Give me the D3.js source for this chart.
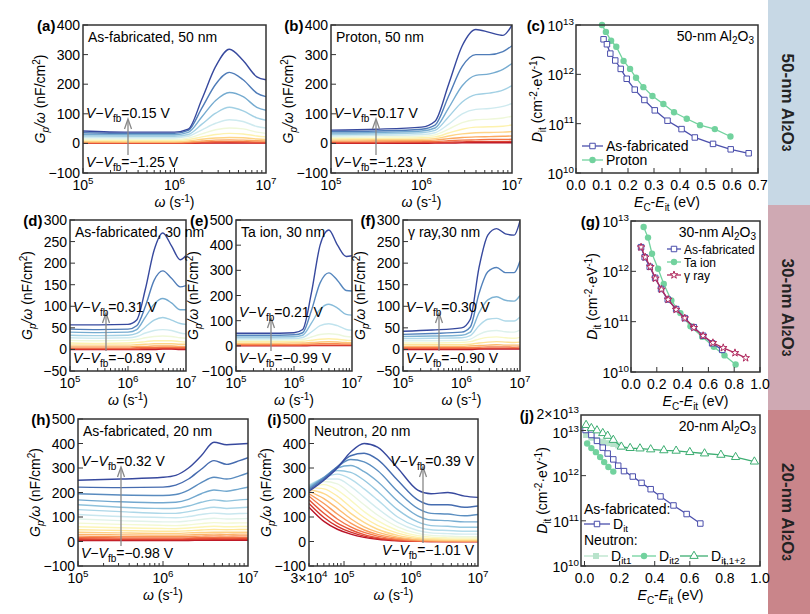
<!DOCTYPE html>
<html><head><meta charset="utf-8">
<script src="https://cdn.jsdelivr.net/npm/d3@7"></script>
<style>body{margin:0;background:#fff}svg{font-family:"Liberation Sans",Arial,sans-serif}</style>
</head><body><div id="canvas"></div>
<script>
// frequency grids (log10 of omega)
const gridA = [5, 5.5, 6, 6.15, 6.3, 6.45, 6.6, 6.75, 6.9, 7];
const gridI = [4.477, 4.7, 4.9, 5.1, 5.3, 5.5, 5.8, 6.1, 6.3, 6.55, 6.8, 7];

// Gp/w curves, top (most positive bias) first
const curvesA = [
  [42,38,38,48,150,260,318,280,225,215],[36,34,34,44,120,200,240,215,170,158],
  [30,29,29,37,90,145,172,158,122,112],[25,24,24,30,65,102,122,110,86,78],
  [20,19,19,24,46,68,80,74,57,52],[15,14,14,18,32,46,52,49,38,34],
  [11,10,10,13,22,30,34,32,25,22],[7,6,6,8,14,18,20,19,15,13],
  [4,4,4,5,8,11,12,11,9,8],[2,2,2,3,5,6,7,6,5,5],[1,1,1,1,2,3,3,3,2,2],[0,0,0,0,1,1,1,1,1,1]];
const curvesB = [
  [45,48,55,75,200,330,385,375,365,400],[40,42,48,62,160,260,300,300,310,330],
  [35,37,42,52,120,195,230,235,250,270],[30,32,36,44,90,140,165,170,180,195],
  [25,27,30,36,65,100,115,118,125,135],[20,22,24,29,48,70,80,82,86,92],
  [16,17,19,22,35,48,55,56,58,62],[12,13,14,16,25,32,36,37,38,40],
  [8,9,10,11,16,20,22,23,24,25],[5,5,6,6,9,11,12,13,13,14],[2,2,3,3,4,5,6,6,6,7],[0,0,0,1,1,2,2,2,2,2]];
const curvesD = [
  [57,57,58,68,140,230,270,240,208,218],[47,46,47,55,100,160,182,165,145,148],
  [40,39,40,46,75,105,118,108,92,92],[33,32,33,37,52,68,74,68,60,58],
  [27,26,27,30,38,44,46,44,38,36],[21,20,21,23,27,30,31,30,27,26],
  [15,14,15,16,18,20,20,20,18,17],[10,10,10,11,12,13,13,13,12,12],
  [6,6,6,7,7,8,8,8,7,7],[3,3,3,4,4,4,5,5,4,4],[1,1,1,1,2,2,2,2,2,2],[0,0,0,0,0,0,1,1,0,0]];
const curvesE = [
  [50,50,52,65,210,400,460,400,355,358],[42,42,44,52,140,250,290,260,220,218],
  [35,35,36,42,90,145,165,150,125,122],[28,28,29,33,55,80,88,80,65,62],
  [22,22,23,25,35,45,48,45,37,35],[16,16,17,18,22,26,28,26,22,21],
  [10,10,11,11,13,15,16,15,13,12],[5,5,5,6,7,8,8,8,7,7],[2,2,2,2,3,3,3,3,3,3],[0,0,0,0,1,1,1,1,1,1]];
const curvesF = [
  [42,45,50,70,190,265,280,268,265,298],[35,37,40,52,130,180,190,178,178,205],
  [30,31,33,40,85,115,122,114,112,125],[25,26,27,32,55,70,72,66,66,75],
  [20,20,21,24,35,42,44,41,40,45],[15,15,16,18,24,28,29,27,26,28],
  [11,11,11,12,15,17,18,17,16,17],[7,7,7,8,9,10,11,10,10,10],
  [4,4,4,4,5,6,6,6,5,6],[2,2,2,2,2,3,3,3,3,3],[0,0,0,0,1,1,1,1,1,1]];
const curvesH = [
  [250,255,262,270,300,350,405,395,398,400],[222,220,222,230,255,295,330,315,330,342],
  [195,190,188,192,210,240,262,255,268,280],[170,162,158,160,172,195,210,205,215,222],
  [150,140,135,136,145,160,170,165,170,172],[130,122,115,115,122,132,140,135,138,140],
  [110,102,98,97,102,110,116,112,114,115],[92,85,80,80,84,90,95,92,93,94],
  [75,70,66,65,68,73,77,75,76,76],[60,56,53,52,55,59,62,60,61,61],
  [48,45,42,42,44,47,49,48,49,49],[38,35,33,33,35,37,38,38,38,38],
  [29,27,26,26,27,29,30,29,30,30],[22,20,20,20,21,22,23,22,23,23],
  [16,15,15,15,15,16,17,16,17,17],[11,10,10,10,11,11,12,12,12,12],
  [7,7,7,7,7,8,8,8,8,8],[4,4,4,4,4,5,5,5,5,5]];
const curvesI = [
  [205,250,300,365,400,385,300,210,195,200,185,180],[210,255,305,350,360,335,250,170,150,150,140,145],
  [215,260,305,335,325,290,205,135,115,112,105,110],[220,262,300,310,285,245,165,105,88,85,80,80],
  [225,262,290,282,250,205,130,80,65,62,58,58],[228,260,275,255,215,170,100,60,48,45,42,42],
  [230,255,255,225,180,135,78,45,35,32,30,30],[230,245,235,195,150,108,60,33,25,22,20,20],
  [225,232,210,168,122,85,45,24,18,15,14,14],[220,215,185,140,98,66,34,17,12,10,9,9],
  [212,195,160,115,78,50,25,12,8,6,6,6],[205,175,135,93,60,38,18,8,5,4,3,3],
  [195,155,112,75,47,29,13,5,3,2,2,2],[185,135,92,60,37,22,9,3,2,1,1,1],
  [170,115,75,48,28,16,6,2,1,0,0,0],[155,98,62,38,22,12,4,1,0,0,0,0],
  [140,82,50,30,17,9,3,1,0,0,0,0]];

// Dit data: energy (eV) and log10(Dit)
const cAsE = [0.106,0.119,0.132,0.151,0.172,0.195,0.226,0.263,0.303,0.352,0.406,0.457,0.527,0.595,0.664];
const cAsD = [12.71,12.61,12.42,12.28,12.11,11.91,11.69,11.48,11.27,11.06,10.89,10.72,10.59,10.48,10.40];
const cPrE = [0.1,0.115,0.135,0.155,0.183,0.208,0.231,0.259,0.294,0.336,0.377,0.426,0.477,0.534,0.594];
const cPrD = [13.0,12.86,12.68,12.56,12.27,12.11,11.93,11.74,11.56,11.40,11.23,11.10,10.97,10.89,10.74];
const gAsE = [0.078,0.106,0.145,0.187,0.233,0.285,0.35,0.417,0.487,0.559,0.629,0.707];
const gAsD = [12.48,12.28,12.09,11.87,11.65,11.44,11.25,11.07,10.89,10.72,10.57,10.44];
const gTaE = [0.098,0.132,0.163,0.21,0.254,0.313,0.383,0.461,0.552,0.642,0.725,0.811];
const gTaD = [12.88,12.67,12.35,12.05,11.75,11.42,11.17,10.91,10.70,10.50,10.33,10.15];
const gGaE = [0.078,0.111,0.15,0.189,0.236,0.288,0.35,0.417,0.487,0.559,0.635,0.715,0.806,0.889];
const gGaD = [12.48,12.28,12.09,11.86,11.64,11.44,11.24,11.07,10.88,10.72,10.58,10.48,10.38,10.28];
const jAsE = [0.006,0.039,0.071,0.104,0.132,0.164,0.192,0.225,0.275,0.325,0.377,0.433,0.507,0.582,0.66];
const jAsD = [13.01,12.90,12.77,12.62,12.49,12.36,12.22,12.10,11.98,11.84,11.70,11.54,11.34,11.15,10.94];
const j1E = [0.009,0.039,0.071,0.104,0.132,0.164,0.192];
const j1D = [12.90,12.84,12.79,12.75,12.72,12.70,12.67];
const j2E = [0.015,0.039,0.065,0.089,0.112,0.136,0.164];
const j2D = [12.71,12.61,12.52,12.41,12.30,12.19,12.09];
const j12E = [0.009,0.039,0.071,0.104,0.132,0.164,0.21,0.26,0.316,0.377,0.452,0.522,0.6,0.684,0.777,0.861,0.968];
const j12D = [13.12,13.05,13.00,12.94,12.88,12.79,12.64,12.61,12.60,12.58,12.56,12.55,12.52,12.49,12.46,12.41,12.31];

const svg = d3.select("#canvas").append("svg").attr("width", 810).attr("height", 614);

// side bars
const bars = [["#c7d8e5","50-nm Al",0,205],["#cfa9b3","30-nm Al",205,410],["#c9858a","20-nm Al",410,614]];
bars.forEach(b => {
  svg.append("rect").attr("x",768).attr("y",b[2]).attr("width",42).attr("height",b[3]-b[2]).attr("fill",b[0]);
  const t = svg.append("text").attr("transform",`translate(782,${(b[2]+b[3])/2}) rotate(90)`)
    .attr("text-anchor","middle").attr("font-weight","bold").attr("font-size",17).attr("fill","#222");
  t.append("tspan").text(b[1]);
  t.append("tspan").attr("font-size",12).text("2");
  t.append("tspan").text("O");
  t.append("tspan").attr("font-size",12).text("3");
});

function pow10(sel, mant, exp, size) {
  sel.append("tspan").text(mant);
  sel.append("tspan").attr("font-size", size*0.7).attr("dy", -size*0.45).text(exp);
}
function frame(b){
  svg.append("rect").attr("x",b.x0).attr("y",b.y0).attr("width",b.x1-b.x0).attr("height",b.y1-b.y0)
    .attr("fill","none").attr("stroke","#333").attr("stroke-width",1.5);
}
// panel letter sits left of the top tick label
function letter(b, s, topLabel){
  const w = topLabel ? topLabel.node().getBBox().width : 0;
  svg.append("text").attr("x",b.x0-w-4).attr("y",b.y0+6).attr("text-anchor","end")
    .attr("font-weight","bold").attr("font-size",15).text(s);
}
function logXAxis(b, x, lo, hi, first3){
  const g = svg.append("g");
  for (let e = Math.floor(Math.log10(lo)); e < hi; e++) for (let m = 1; m < 10; m++) {
    const v = m * 10**e; if (v < lo - 1 || v > 10**hi) continue;
    g.append("line").attr("x1",x(v)).attr("x2",x(v)).attr("y1",b.y1).attr("y2",b.y1-(m===1?5:3)).attr("stroke","#333");
  }
  for (let e = Math.ceil(Math.log10(lo)); e <= hi; e++) {
    const t = g.append("text").attr("x",x(10**e)).attr("y",b.y1+17).attr("text-anchor","middle").attr("font-size",14);
    pow10(t,"10",e,14);
  }
  if (first3) { const t = g.append("text").attr("x",x(lo)).attr("y",b.y1+17).attr("text-anchor","middle").attr("font-size",14); pow10(t,"3×10","4",14); }
  const t = g.append("text").attr("x",(b.x0+b.x1)/2).attr("y",b.y1+34).attr("text-anchor","middle").attr("font-size",14);
  t.append("tspan").attr("font-style","italic").text("ω");
  t.append("tspan").text(" (s");
  t.append("tspan").attr("font-size",10).attr("dy",-5).text("-1");
  t.append("tspan").attr("dy",5).text(")");
}
function linYAxis(b, y, ticks){
  let top;
  ticks.forEach(v => {
    svg.append("line").attr("x1",b.x0).attr("x2",b.x0+5).attr("y1",y(v)).attr("y2",y(v)).attr("stroke","#333");
    top = svg.append("text").attr("x",b.x0-3).attr("y",y(v)+5).attr("text-anchor","end").attr("font-size",14).text(v<0?"\u2212"+(-v):v);
  });
  const t = svg.append("text").attr("transform",`translate(${b.x0-38},${(b.y0+b.y1)/2}) rotate(-90)`)
    .attr("text-anchor","middle").attr("font-size",14);
  t.append("tspan").attr("font-style","italic").text("G");
  t.append("tspan").attr("font-style","italic").attr("font-size",10).attr("dy",4).text("p");
  t.append("tspan").attr("dy",-4).attr("font-style","italic").text("/ω");
  t.append("tspan").text(" (nF/cm");
  t.append("tspan").attr("font-size",10).attr("dy",-5).text("2");
  t.append("tspan").attr("dy",5).text(")");
  return top;
}
function vlabel(x, yb, val, anchor){
  const t = svg.append("text").attr("x",x).attr("y",yb).attr("font-size",14).attr("text-anchor",anchor||"start");
  t.append("tspan").attr("font-style","italic").text("V");
  t.append("tspan").text("\u2212");
  t.append("tspan").attr("font-style","italic").text("V");
  t.append("tspan").attr("font-size",10).attr("dy",4).text("fb");
  t.append("tspan").attr("dy",-4).text("="+val+" V");
}

let clipN = 0;
function gPanel(p){
  const b = p.box;
  const x = d3.scaleLog().domain([p.xlo, 10**7]).range([b.x0,b.x1]);
  const y = d3.scaleLinear().domain(p.ydom).range([b.y1,b.y0]);
  const id = "clip"+(clipN++);
  svg.append("clipPath").attr("id",id).append("rect").attr("x",b.x0).attr("y",b.y0).attr("width",b.x1-b.x0).attr("height",b.y1-b.y0);
  const line = d3.line().x(d=>x(10**d[0])).y(d=>y(d[1])).curve(d3.curveMonotoneX);
  const n = p.curves.length;
  const g = svg.append("g").attr("clip-path",`url(#${id})`);
  p.curves.slice().reverse().forEach((c,k) => {
    const i = n-1-k;
    const t = 0.04 + 0.93*(1 - i/(n-1));
    g.append("path").attr("d",line(c.map((v,j)=>[p.grid[j],v]))).attr("fill","none")
      .attr("stroke",d3.interpolateRdYlBu(t)).attr("stroke-width",1.4);
  });
  frame(b);
  logXAxis(b, x, p.xlo, 7, p.xlo < 1e5);
  const top = linYAxis(b, y, d3.range(p.ydom[0], p.ydom[1]+1, p.step));
  letter(b, p.letter, top);
  svg.append("text").attr("x",b.x0+5).attr("y",b.y0+17).attr("font-size",14).text(p.title);
  const L = p.lab;
  const ax = b.x0+L.ax;
  svg.append("line").attr("x1",ax).attr("x2",ax).attr("y1",b.y0+L.bot-12).attr("y2",b.y0+L.top+3).attr("stroke","#888").attr("stroke-width",1.3);
  svg.append("path").attr("d",`M${ax-3.5},${b.y0+L.top+11}L${ax},${b.y0+L.top+1}L${ax+3.5},${b.y0+L.top+11}`).attr("fill","none").attr("stroke","#888").attr("stroke-width",1.3);
  const lx = L.right ? b.x1-4 : b.x0+3;
  vlabel(lx, b.y0+L.top, p.vt, L.right?"end":"start");
  vlabel(lx, b.y0+L.bot, "\u2212"+p.vb, L.right?"end":"start");
}

gPanel({box:{x0:83,y0:25,x1:266,y1:173},letter:"(a)",title:"As-fabricated, 50 nm",xlo:1e5,grid:gridA,curves:curvesA,ydom:[-100,400],step:100,vt:"0.15",vb:"1.25",lab:{top:93,bot:142,ax:45}});
gPanel({box:{x0:331,y0:25,x1:512,y1:173},letter:"(b)",title:"Proton, 50 nm",xlo:1e5,grid:gridA,curves:curvesB,ydom:[-100,400],step:100,vt:"0.17",vb:"1.23",lab:{top:93,bot:142,ax:45}});
gPanel({box:{x0:70,y0:220,x1:186,y1:371},letter:"(d)",title:"As-fabricated, 30 nm",xlo:1e5,grid:gridA,curves:curvesD,ydom:[-50,300],step:50,vt:"0.31",vb:"0.89",lab:{top:92,bot:143,ax:36}});
gPanel({box:{x0:236,y0:220,x1:352,y1:371},letter:"(e)",title:"Ta ion, 30 nm",xlo:1e5,grid:gridA,curves:curvesE,ydom:[-100,500],step:100,vt:"0.21",vb:"0.99",lab:{top:97,bot:143,ax:35}});
gPanel({box:{x0:403,y0:220,x1:520,y1:371},letter:"(f)",title:"\u03b3 ray,30 nm",xlo:1e5,grid:gridA,curves:curvesF,ydom:[-50,300],step:50,vt:"0.30",vb:"0.90",lab:{top:92,bot:143,ax:36}});
gPanel({box:{x0:78,y0:419,x1:248,y1:566},letter:"(h)",title:"As-fabricated, 20 nm",xlo:1e5,grid:gridA,curves:curvesH,ydom:[-100,500],step:100,vt:"0.32",vb:"0.98",lab:{top:47,bot:139,ax:43}});
gPanel({box:{x0:309,y0:419,x1:478,y1:566},letter:"(i)",title:"Neutron, 20 nm",xlo:3e4,grid:gridI,curves:curvesI,ydom:[-100,500],step:100,vt:"0.39",vb:"1.01",lab:{top:47,bot:136,ax:114,right:true}});

// Dit panels
function marker(g, kind, color, px, py){
  if (kind==="circle") g.append("circle").attr("cx",px).attr("cy",py).attr("r",3.2).attr("fill",color);
  else if (kind==="lsq") g.append("rect").attr("x",px-3).attr("y",py-3).attr("width",6).attr("height",6).attr("fill",color);
  else {
    const sym = kind==="sq"?d3.symbolSquare:kind==="tri"?d3.symbolTriangle:d3.symbolStar;
    g.append("path").attr("d",d3.symbol().type(sym).size(kind==="star"?18:30)()).attr("transform",`translate(${px},${py})`)
      .attr("fill","#fff").attr("stroke",color).attr("stroke-width",1);
  }
}
function ditPanel(p){
  const b = p.box;
  const x = d3.scaleLinear().domain(p.xdom).range([b.x0,b.x1]);
  const y = d3.scaleLog().domain(p.ydom).range([b.y1,b.y0]);
  const g = svg.append("g");
  p.series.forEach(s => {
    const pts = s.e.map((e,i)=>[x(e), y(10**s.d[i])]);
    g.append("path").attr("d",d3.line()(pts)).attr("fill","none").attr("stroke",s.color).attr("stroke-width",1.3);
    pts.forEach(q => marker(g, s.kind, s.color, q[0], q[1]));
  });
  frame(b);
  p.xticks.forEach(v => {
    svg.append("line").attr("x1",x(v)).attr("x2",x(v)).attr("y1",b.y1).attr("y2",b.y1-5).attr("stroke","#333");
    svg.append("text").attr("x",x(v)).attr("y",b.y1+17).attr("text-anchor","middle").attr("font-size",14).text(v.toFixed(1));
  });
  let top;
  [10,11,12,13].forEach(e => {
    svg.append("line").attr("x1",b.x0).attr("x2",b.x0+5).attr("y1",y(10**e)).attr("y2",y(10**e)).attr("stroke","#333");
    top = svg.append("text").attr("x",b.x0-2).attr("y",y(10**e)+(p.ydom[1]>1.5e13&&e===13?8:6)).attr("text-anchor","end").attr("font-size",14);
    pow10(top,"10",e,14);
  });
  if (p.ydom[1] > 1.5e13) {
    top = svg.append("text").attr("x",b.x0-2).attr("y",y(2e13)+2).attr("text-anchor","end").attr("font-size",14);
    pow10(top,"2×10","13",14);
  }
  letter(b, p.letter, top);
  const xt = svg.append("text").attr("x",(b.x0+b.x1)/2).attr("y",b.y1+34).attr("text-anchor","middle").attr("font-size",14);
  xt.append("tspan").attr("font-style","italic").text("E");
  xt.append("tspan").attr("font-size",10).attr("dy",4).text("C");
  xt.append("tspan").attr("dy",-4).text("-");
  xt.append("tspan").attr("font-style","italic").text("E");
  xt.append("tspan").attr("font-size",10).attr("dy",4).text("it");
  xt.append("tspan").attr("dy",-4).text(" (eV)");
  const yt = svg.append("text").attr("transform",`translate(${b.x0-34},${(b.y0+b.y1)/2}) rotate(-90)`).attr("text-anchor","middle").attr("font-size",14);
  yt.append("tspan").attr("font-style","italic").text("D");
  yt.append("tspan").attr("font-size",10).attr("dy",4).text("it");
  yt.append("tspan").attr("dy",-4).text(" (cm");
  yt.append("tspan").attr("font-size",10).attr("dy",-5).text("-2");
  yt.append("tspan").attr("dy",5).text("·eV");
  yt.append("tspan").attr("font-size",10).attr("dy",-5).text("-1");
  yt.append("tspan").attr("dy",5).text(")");
  const tt = svg.append("text").attr("x",b.x1-4).attr("y",b.y0+16).attr("text-anchor","end").attr("font-size",14);
  tt.append("tspan").text(p.thick+"-nm Al");
  tt.append("tspan").attr("font-size",10).attr("dy",3).text("2");
  tt.append("tspan").attr("dy",-3).text("O");
  tt.append("tspan").attr("font-size",10).attr("dy",3).text("3");
  return g;
}
function legItem(x1, x2, yy, s, label, size, sub){
  svg.append("line").attr("x1",x1).attr("x2",x2).attr("y1",yy).attr("y2",yy).attr("stroke",s.color).attr("stroke-width",1.3);
  marker(svg, s.kind, s.color, (x1+x2)/2, yy);
  const t = svg.append("text").attr("x",x2+3).attr("y",yy+4.5).attr("font-size",size);
  t.append("tspan").text(label);
  if (sub) t.append("tspan").attr("font-size",size*0.7).attr("dy",3).text(sub);
}
const cAs = {e:cAsE,d:cAsD,color:"#4b4fac",kind:"sq"}, cPr = {e:cPrE,d:cPrD,color:"#72d29e",kind:"circle"};
ditPanel({box:{x0:576,y0:25,x1:758,y1:173},letter:"(c)",thick:"50",xdom:[0,0.7],ydom:[1e10,1e13],xticks:d3.range(0,0.71,0.1),series:[cPr,cAs]});
legItem(582,603,146,cAs,"As-fabricated",14); legItem(582,603,160,cPr,"Proton",14);

const gAs = {e:gAsE,d:gAsD,color:"#4b4fac",kind:"sq"}, gTa = {e:gTaE,d:gTaD,color:"#72d29e",kind:"circle"}, gGa = {e:gGaE,d:gGaD,color:"#b02a5e",kind:"star"};
ditPanel({box:{x0:631,y0:221,x1:760,y1:372},letter:"(g)",thick:"30",xdom:[0,1],ydom:[1e10,1e13],xticks:d3.range(0,1.01,0.2),series:[gTa,gAs,gGa]});
legItem(667,681,249,gAs,"As-fabricated",12); legItem(667,681,262,gTa,"Ta ion",12); legItem(667,681,275,gGa,"\u03b3 ray",12);

const jAs = {e:jAsE,d:jAsD,color:"#4b4fac",kind:"sq"}, j1 = {e:j1E,d:j1D,color:"#b8e3cb",kind:"lsq"},
  j2 = {e:j2E,d:j2D,color:"#72d29e",kind:"circle"}, j12 = {e:j12E,d:j12D,color:"#3dae72",kind:"tri"};
ditPanel({box:{x0:581,y0:415,x1:760,y1:566},letter:"(j)",thick:"20",xdom:[-0.02,1],ydom:[1e10,2.2e13],xticks:d3.range(0,1.01,0.2),series:[j1,j2,jAs,j12]});
svg.append("text").attr("x",584).attr("y",514).attr("font-size",14).text("As-fabricated:");
legItem(584,610,524,jAs,"D",14,"it");
svg.append("text").attr("x",584).attr("y",545).attr("font-size",14).text("Neutron:");
legItem(584,608,556,j1,"D",14,"it1"); legItem(632,656,556,j2,"D",14,"it2"); legItem(680,708,556,j12,"D",14,"it,1+2");
</script></body></html>
